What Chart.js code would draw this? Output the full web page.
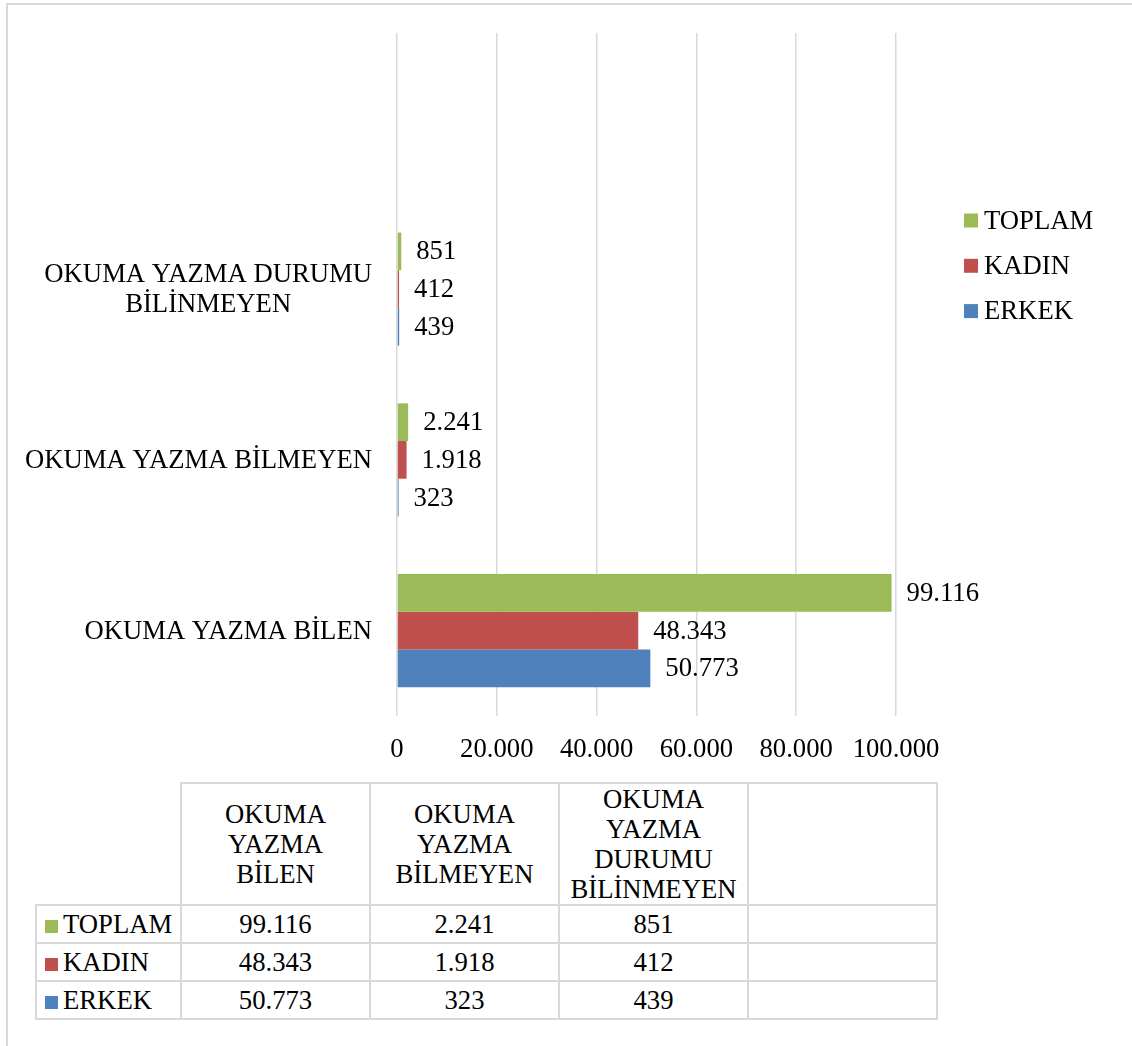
<!DOCTYPE html>
<html>
<head>
<meta charset="utf-8">
<script src="https://cdn.jsdelivr.net/npm/chart.js@4.4.0/dist/chart.umd.min.js"></script>
<style>
html,body{margin:0;padding:0;background:#fff;width:1132px;height:1046px;overflow:hidden;}
body{position:relative;font-family:"Liberation Serif","Times New Roman",serif;color:#000;}
#frame{position:absolute;left:6px;top:3px;width:1300px;height:1300px;border-top:2px solid #d9d9d9;border-left:2px solid #d9d9d9;}
#c{position:absolute;left:0;top:0;}
#tbl{position:absolute;left:35px;top:782px;border-collapse:collapse;table-layout:fixed;font-size:26.7px;}
#tbl td{border:2px solid #d9d9d9;padding:0;text-align:center;vertical-align:middle;white-space:nowrap;overflow:hidden;}
#tbl tr.head td{line-height:30px;height:120px;}
#tbl tr.row td{height:36px;line-height:30px;}
#tbl td.blank{border-top:none;border-left:none;}
#tbl td.name{text-align:left;padding-left:8px;}
#tbl td.name span.sw{display:inline-block;width:13px;height:13px;margin-right:5px;vertical-align:0px;}
</style>
</head>
<body>
<div id="frame"></div>
<canvas id="c" width="1132" height="780"></canvas>
<table id="tbl"></table>
<script>
// ---- data ----
const categories = ['OKUMA YAZMA BİLEN', 'OKUMA YAZMA BİLMEYEN', 'OKUMA YAZMA DURUMU BİLİNMEYEN', ''];
const seriesNames = ['TOPLAM', 'KADIN', 'ERKEK'];
const toplam = [99116, 2241, 851, null];
const kadin  = [48343, 1918, 412, null];
const erkek  = [50773, 323, 439, null];
const seriesColors = ['#9BBB59', '#C0504D', '#4F81BD'];
const xMin = 0, xMax = 100000, xStep = 20000;

const FONT = '"Liberation Serif", "Times New Roman", serif';
const FSIZE = 26.7;
const fmt = v => String(v).replace(/\B(?=(\d{3})+(?!\d))/g, '.');

const seriesValues = [toplam, kadin, erkek];
// chart category axis runs top->bottom, reference runs bottom->top
const chartLabels = categories.slice().reverse();

function wrapText(ctx, text, maxW) {
  const words = text.split(' ');
  const lines = [];
  let cur = '';
  words.forEach(w => {
    const t = cur ? cur + ' ' + w : w;
    if (ctx.measureText(t).width > maxW && cur) { lines.push(cur); cur = w; }
    else cur = t;
  });
  if (cur) lines.push(cur);
  return lines;
}

const categoryLabelPlugin = {
  id: 'catLabels',
  afterDraw(chart) {
    const ctx = chart.ctx;
    const ys = chart.scales.y;
    ctx.save();
    ctx.font = FSIZE + 'px ' + FONT;
    ctx.fillStyle = '#000';
    ctx.textAlign = 'center';
    ctx.textBaseline = 'middle';
    const rightEdge = chart.chartArea.left - 25;
    chartLabels.forEach((lab, i) => {
      if (!lab) return;
      const lines = wrapText(ctx, lab, 365);
      const maxW = Math.max(...lines.map(l => ctx.measureText(l).width));
      const cx = rightEdge - maxW / 2;
      const py = ys.getPixelForValue(i);
      lines.forEach((l, k) => ctx.fillText(l, cx, py + (k - (lines.length - 1) / 2) * 30 + 1));
    });
    ctx.restore();
  }
};

const valueLabelPlugin = {
  id: 'valLabels',
  afterDatasetsDraw(chart) {
    const ctx = chart.ctx;
    ctx.save();
    ctx.font = FSIZE + 'px ' + FONT;
    ctx.fillStyle = '#000';
    ctx.textAlign = 'left';
    ctx.textBaseline = 'middle';
    chart.data.datasets.forEach((ds, di) => {
      const meta = chart.getDatasetMeta(di);
      meta.data.forEach((bar, i) => {
        const v = ds.data[i];
        if (v === null || v === undefined) return;
        ctx.fillText(fmt(v), bar.x + 15, bar.y + 1);
      });
    });
    ctx.restore();
  }
};

const legendPlugin = {
  id: 'customLegend',
  afterDraw(chart) {
    const ctx = chart.ctx;
    ctx.save();
    ctx.font = FSIZE + 'px ' + FONT;
    ctx.textAlign = 'left';
    ctx.textBaseline = 'middle';
    const x0 = chart.chartArea.right + 68;
    chart.data.datasets.forEach((ds, i) => {
      const cy = 220.5 + i * 45.3;
      ctx.fillStyle = ds.backgroundColor;
      ctx.fillRect(x0, cy - 7, 14, 14);
      ctx.fillStyle = '#000';
      ctx.fillText(ds.label, x0 + 20, cy + 1);
    });
    ctx.restore();
  }
};

const datasets = seriesNames.map((n, i) => ({
  label: n,
  data: seriesValues[i].slice().reverse(),
  backgroundColor: seriesColors[i],
  borderWidth: 0,
  categoryPercentage: 0.662,
  barPercentage: 1.0
}));

new Chart(document.getElementById('c'), {
  type: 'bar',
  data: { labels: chartLabels, datasets },
  options: {
    indexAxis: 'y',
    responsive: false,
    animation: false,
    devicePixelRatio: 1,
    layout: { padding: { top: 33, right: 236, left: 0, bottom: 0 } },
    plugins: { legend: { display: false }, tooltip: { enabled: false } },
    scales: {
      x: {
        min: xMin, max: xMax,
        border: { display: false },
        grid: { color: '#d9d9d9', lineWidth: 1.5, drawTicks: false },
        ticks: {
          stepSize: xStep,
          color: '#000',
          font: { family: FONT, size: FSIZE },
          padding: 18,
          maxRotation: 0,
          callback: v => fmt(v)
        },
        afterFit: s => { s.height = 64; }
      },
      y: {
        border: { display: false },
        grid: { display: false },
        ticks: { display: false },
        afterFit: s => { s.width = 397; }
      }
    }
  },
  plugins: [categoryLabelPlugin, valueLabelPlugin, legendPlugin]
});

// ---- data table ----
const tbl = document.getElementById('tbl');
const cg = document.createElement('colgroup');
[145, 189, 189, 189, 189].forEach(w => { const c = document.createElement('col'); c.style.width = w + 'px'; cg.appendChild(c); });
tbl.appendChild(cg);
const head = document.createElement('tr');
head.className = 'head';
const blank = document.createElement('td'); blank.className = 'blank'; head.appendChild(blank);
categories.forEach(c => {
  const td = document.createElement('td');
  td.innerHTML = c.split(' ').filter(Boolean).join('<br>');
  head.appendChild(td);
});
tbl.appendChild(head);
seriesNames.forEach((n, i) => {
  const tr = document.createElement('tr');
  tr.className = 'row';
  const nm = document.createElement('td');
  nm.className = 'name';
  const sw = document.createElement('span'); sw.className = 'sw'; sw.style.background = seriesColors[i];
  nm.appendChild(sw); nm.appendChild(document.createTextNode(n));
  tr.appendChild(nm);
  seriesValues[i].forEach(v => {
    const td = document.createElement('td');
    td.textContent = (v === null) ? '' : fmt(v);
    tr.appendChild(td);
  });
  tbl.appendChild(tr);
});
</script>
</body>
</html>
